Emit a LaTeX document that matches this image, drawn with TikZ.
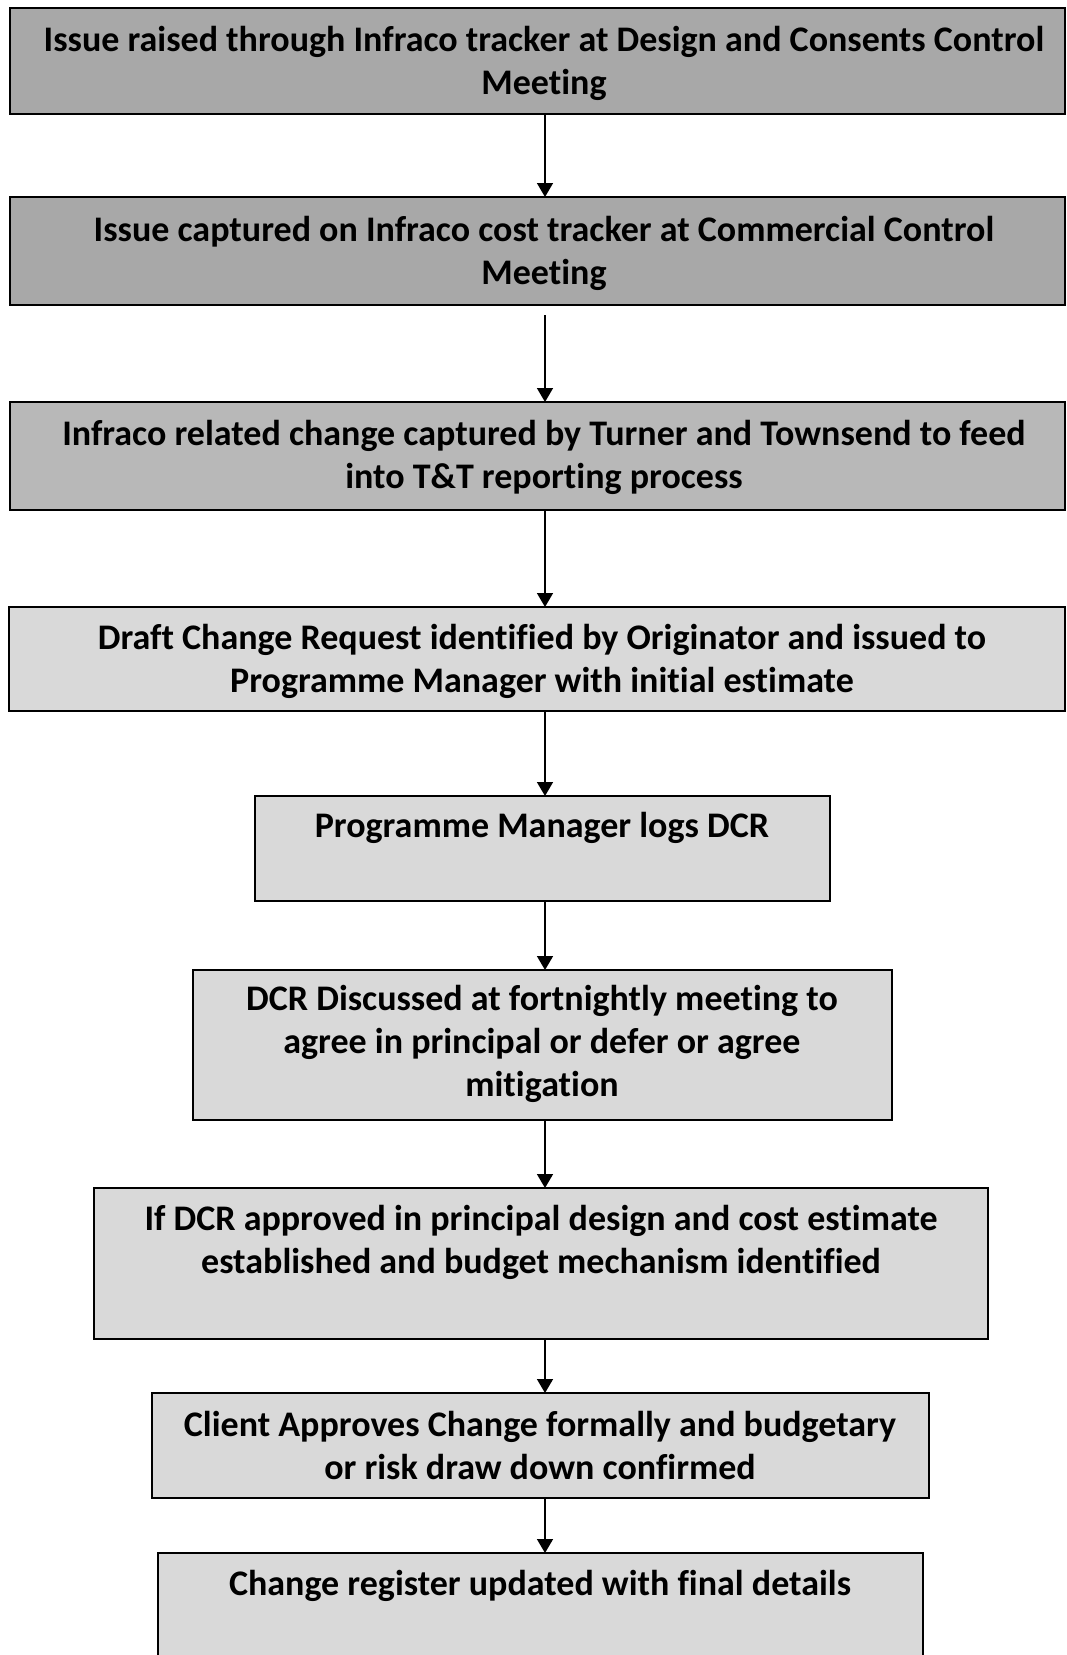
\documentclass[tikz,border=0pt]{standalone}
\usepackage{fontspec}
\setmainfont[Ligatures=NoCommon]{Carlito}
\usetikzlibrary{arrows.meta}
\definecolor{darkfill}{gray}{0.66}
\definecolor{midfill}{gray}{0.72}
\definecolor{lightfill}{gray}{0.85}
\tikzset{
  flowbox/.style={draw=black, line width=2pt, inner sep=0pt},
  flowtext/.style={inner sep=0pt, align=center, anchor=north,
    font=\fontsize{36}{43}\selectfont\bfseries},
  flowarrow/.style={draw=black, line width=1.6pt, -{Triangle[length=14pt,width=16pt]}}
}
\begin{document}
\begin{tikzpicture}[x=1pt,y=-1pt]
\useasboundingbox (0,0) rectangle (1067,1655);
\clip (0,0) rectangle (1067,1655);
\fill[white] (0,0) rectangle (1067,1655);
% boxes
\path[flowbox, fill=darkfill] (10,8) rectangle (1065,114) node[midway, draw=none] (b1) {};
\path[flowbox, fill=darkfill] (10,197) rectangle (1065,305) node[midway, draw=none] (b2) {};
\path[flowbox, fill=midfill] (10,402) rectangle (1065,510) node[midway, draw=none] (b3) {};
\path[flowbox, fill=lightfill] (9,607) rectangle (1065,711) node[midway, draw=none] (b4) {};
\path[flowbox, fill=lightfill] (255,796) rectangle (830,901) node[midway, draw=none] (b5) {};
\path[flowbox, fill=lightfill] (193,970) rectangle (892,1120) node[midway, draw=none] (b6) {};
\path[flowbox, fill=lightfill] (94,1188) rectangle (988,1339) node[midway, draw=none] (b7) {};
\path[flowbox, fill=lightfill] (152,1393) rectangle (929,1498) node[midway, draw=none] (b8) {};
\path[flowbox, fill=lightfill] (158,1553) rectangle (923,1680) node[midway, draw=none] (b9) {};
% named anchor coordinates for box edges
\coordinate (b1s) at (545,114);
\coordinate (b2n) at (545,197);
\coordinate (b2s) at (545,315);
\coordinate (b3n) at (545,402);
\coordinate (b3s) at (545,510);
\coordinate (b4n) at (545,607);
\coordinate (b4s) at (545,711);
\coordinate (b5n) at (545,796);
\coordinate (b5s) at (545,901);
\coordinate (b6n) at (545,970);
\coordinate (b6s) at (545,1120);
\coordinate (b7n) at (545,1188);
\coordinate (b7s) at (545,1339);
\coordinate (b8n) at (545,1393);
\coordinate (b8s) at (545,1498);
\coordinate (b9n) at (545,1553);
% texts
\node[flowtext] (t1) at (544,26) {Issue raised through Infraco tracker at Design and Consents Control\\Meeting};
\node[flowtext] (t2) at (544,216) {Issue captured on Infraco cost tracker at Commercial Control\\Meeting};
\node[flowtext] (t3) at (544,420) {Infraco related change captured by Turner and Townsend to feed\\into T\&T reporting process};
\node[flowtext] (t4) at (542,624) {Draft Change Request identified by Originator and issued to\\Programme Manager with initial estimate};
\node[flowtext] (t5) at (542,812) {Programme Manager logs DCR};
\node[flowtext] (t6) at (542,985) {DCR Discussed at fortnightly meeting to\\agree in principal or defer or agree\\mitigation};
\node[flowtext] (t7) at (541,1205) {If DCR approved in principal design and cost estimate\\established and budget mechanism identified};
\node[flowtext] (t8) at (540,1411) {Client Approves Change formally and budgetary\\or risk draw down confirmed};
\node[flowtext] (t9) at (540,1570) {Change register updated with final details};
% connectors
\draw[flowarrow] (b1s) -- (b2n);
\draw[flowarrow] (b2s) -- (b3n);
\draw[flowarrow] (b3s) -- (b4n);
\draw[flowarrow] (b4s) -- (b5n);
\draw[flowarrow] (b5s) -- (b6n);
\draw[flowarrow] (b6s) -- (b7n);
\draw[flowarrow] (b7s) -- (b8n);
\draw[flowarrow] (b8s) -- (b9n);
\end{tikzpicture}
\end{document}
